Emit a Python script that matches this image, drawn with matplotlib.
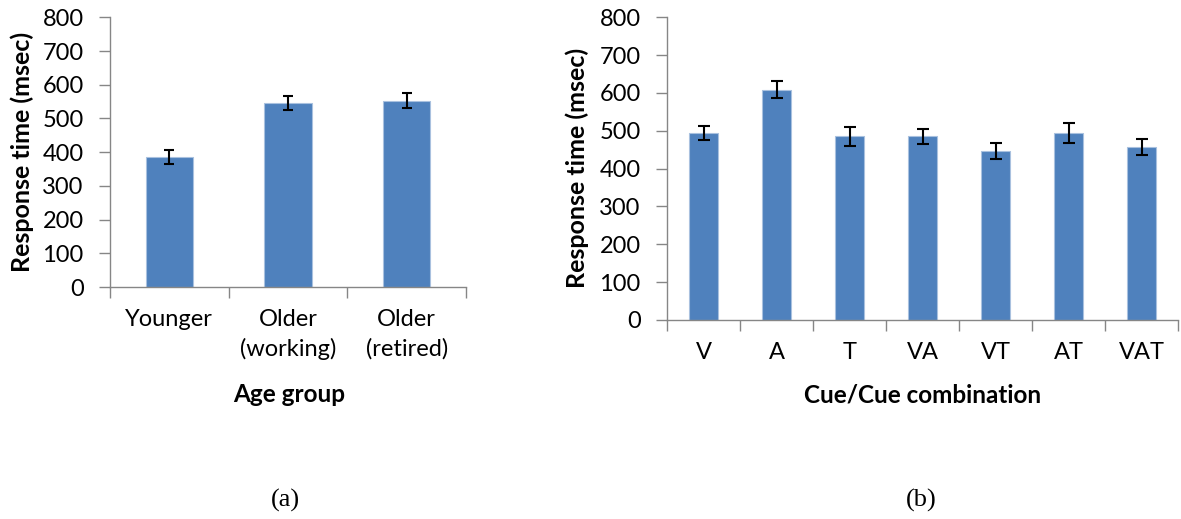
import matplotlib
matplotlib.use("Agg")
import matplotlib.pyplot as plt
import numpy as np

# ---- data ----
age_groups = ["Younger", "Older\n(working)", "Older\n(retired)"]
age_rt = [385, 546, 553]
age_err = [20, 21, 22]

cues = ["V", "A", "T", "VA", "VT", "AT", "VAT"]
cue_rt = [494, 609, 485, 485, 446, 494, 457]
cue_err = [19, 23, 24, 21, 21, 26, 22]

yticks = [0, 100, 200, 300, 400, 500, 600, 700, 800]

W, H = 1181, 519
DPI = 100
plt.rcParams['font.family'] = ['Lato', 'DejaVu Sans']

fig = plt.figure(figsize=(W / DPI, H / DPI), dpi=DPI)
fig.patch.set_facecolor('white')

BAR = '#4F81BD'
EDGE = '#A9C1DF'
GRAY = '#868686'


def px_axes(x0, y0, x1, y1):
    return fig.add_axes([x0 / W, 1 - y1 / H, (x1 - x0) / W, (y1 - y0) / H])


def style(ax, cats, vals, errs, xlabel, xlab_x, capsize):
    n = len(cats)
    x = np.arange(n)
    ax.bar(x, vals, width=0.4, color=BAR, edgecolor=EDGE, linewidth=0.8, zorder=2)
    ax.errorbar(x, vals, yerr=errs, fmt='none', ecolor='black', elinewidth=1.5,
                capsize=capsize, capthick=1.5, zorder=3)
    ax.set_xlim(-0.5, n - 0.5)
    ax.set_ylim(0, 800)
    ax.set_yticks(yticks)
    ax.set_xticks(x)
    ax.set_xticklabels(cats, fontsize=17, linespacing=1.45)
    ax.set_xticks(np.arange(n + 1) - 0.5, minor=True)
    ax.tick_params(axis='x', which='major', length=0, pad=16)
    ax.tick_params(axis='x', which='minor', length=8, width=1, color=GRAY, direction='out')
    ax.tick_params(axis='y', length=8, width=1, color=GRAY, direction='out',
                   labelsize=17, pad=11)
    for s in ['top', 'right']:
        ax.spines[s].set_visible(False)
    for s in ['left', 'bottom']:
        ax.spines[s].set_color(GRAY)
        ax.spines[s].set_linewidth(1)
    ax.set_ylabel("Response time (msec)", fontsize=18, fontweight='bold')
    ax.set_xlabel(xlabel, fontsize=17.5, fontweight='bold')
    ax.xaxis.set_label_coords(xlab_x / W, 1 - 395 / H, transform=fig.transFigure)
    ax.xaxis.label.set_va('center')


ax1 = px_axes(110, 17.3, 466, 287)
style(ax1, age_groups, age_rt, age_err, "Age group", 289, 3.5)
ax1.yaxis.set_label_coords(22 / W, 1 - 152 / H, transform=fig.transFigure)
ax1.yaxis.label.set_va('center')

ax2 = px_axes(667, 17.3, 1178, 320)
style(ax2, cues, cue_rt, cue_err, "Cue/Cue combination", 923, 4.5)
ax2.yaxis.set_label_coords(577 / W, 1 - 168 / H, transform=fig.transFigure)
ax2.yaxis.label.set_va('center')

serif = ['Liberation Serif', 'DejaVu Serif']
fig.text(285 / W, 1 - 500 / H, "(a)", fontsize=19, family=serif, ha='center', va='center')
fig.text(921 / W, 1 - 500 / H, "(b)", fontsize=19, family=serif, ha='center', va='center')

fig.savefig("out.png", dpi=DPI, facecolor='white')
